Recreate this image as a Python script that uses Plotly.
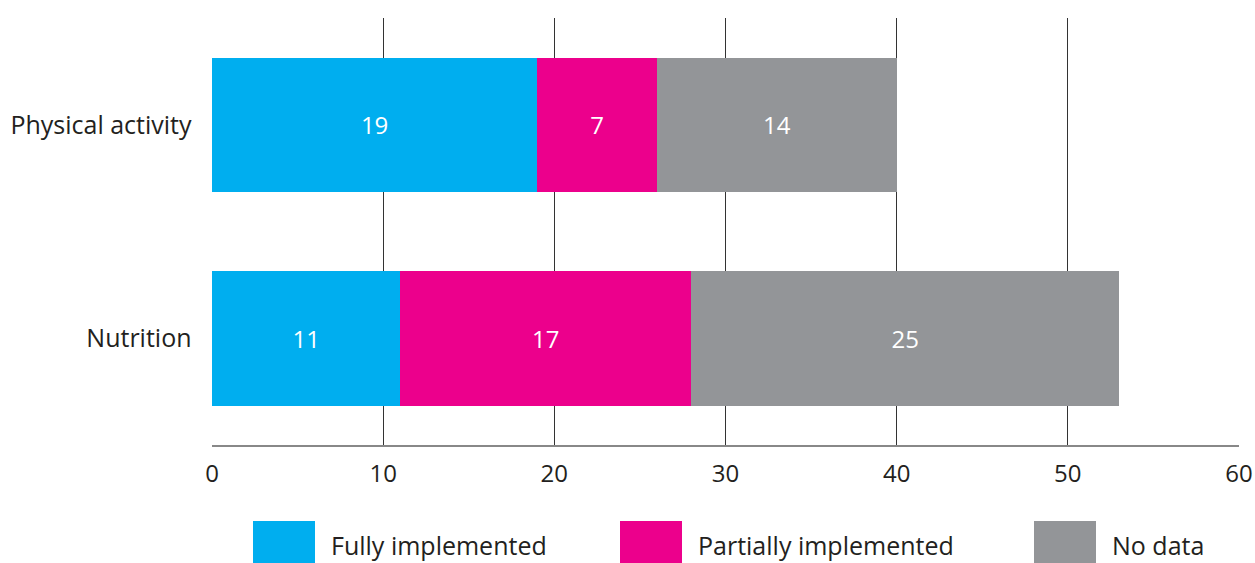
import plotly.graph_objects as go

categories = ["Physical activity", "Nutrition"]
series_names = ["Fully implemented", "Partially implemented", "No data"]
fully = [19, 11]
partially = [7, 17]
no_data = [14, 25]
colors = ["#00AEEF", "#EC008C", "#939598"]
x_ticks = [0, 10, 20, 30, 40, 50, 60]

FONT = "Open Sans"
FS = 24
W, H = 1255, 563
ML, MR, MT, MB = 212, 16, 18, 118
PW, PH = W - ML - MR, H - MT - MB

fig = go.Figure()
for name, vals, col in zip(series_names, [fully, partially, no_data], colors):
    fig.add_trace(go.Bar(
        y=categories, x=vals, name=name, orientation="h",
        marker=dict(color=col, line=dict(width=0)),
        text=[str(v) for v in vals], textposition="inside",
        insidetextanchor="middle",
        textfont=dict(color="white", size=FS, family=FONT),
        width=0.63, showlegend=False, hoverinfo="skip",
    ))

fig.update_layout(
    barmode="stack",
    width=W, height=H,
    margin=dict(l=ML, r=MR, t=MT, b=MB, autoexpand=False),
    plot_bgcolor="white", paper_bgcolor="white",
    font=dict(family=FONT, size=FS, color="#231F20"),
    uniformtext=dict(mode=False),
    xaxis=dict(range=[0, 60], tickvals=x_ticks, showgrid=True,
               gridcolor="#333333", gridwidth=1, zeroline=False,
               showline=True, linecolor="#888888", linewidth=2,
               ticks="", ticklabelstandoff=6,
               tickfont=dict(size=FS, color="#231F20")),
    yaxis=dict(categoryorder="array", categoryarray=categories[::-1],
               showgrid=False, zeroline=False, showline=False,
               ticks="", ticksuffix="   ",
               tickfont=dict(size=25, color="#231F20")),
)

# legend drawn manually (page pixels)
sw_x = [253, 620, 1034]
for i, (name, col) in enumerate(zip(series_names, colors)):
    fig.add_shape(type="rect", xref="paper", yref="paper",
                  x0=(sw_x[i] - ML) / PW, x1=(sw_x[i] + 62 - ML) / PW,
                  y0=-(H - (MT + PH)) / PH, y1=-(521 - (MT + PH)) / PH,
                  fillcolor=col, line=dict(width=0), layer="above")
    fig.add_annotation(xref="paper", yref="paper",
                       x=(sw_x[i] + 76 - ML) / PW,
                       y=-(545 - (MT + PH)) / PH, text=name, showarrow=False,
                       xanchor="left", yanchor="middle",
                       font=dict(size=25, color="#231F20", family=FONT))

fig.write_html("out.html", config={"displayModeBar": False},
               post_script="document.body.style.margin='0';document.body.style.overflow='hidden';")
